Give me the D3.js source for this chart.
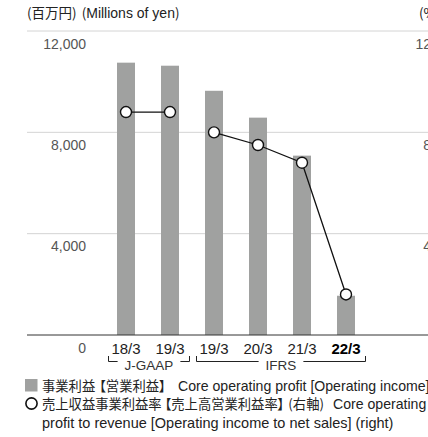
<!DOCTYPE html>
<html><head><meta charset="utf-8">
<script src="https://cdn.jsdelivr.net/npm/d3@7"></script>
<style>
html,body{margin:0;padding:0;overflow:hidden;background:#fff;}
svg{display:block;}
text{font-family:"Liberation Sans","Noto Sans CJK JP",sans-serif;}
.cjk{font-family:"Noto Sans CJK JP",sans-serif;font-feature-settings:"palt";}
</style></head><body>
<script>
const categories = ["18/3","19/3","19/3","20/3","21/3","22/3"];
const groups = ["J-GAAP","J-GAAP","IFRS","IFRS","IFRS","IFRS"];
const profit = [10750, 10630, 9640, 8580, 7080, 1550];
const margin = [8.8, 8.8, 8.0, 7.5, 6.8, 1.6];
const leftTicks = [0, 4000, 8000, 12000];
const rightTicks = [0, 4, 8, 12];

const W = 470, H = 437;
const svg = d3.select("body").append("svg").attr("width", W).attr("height", H);

const y = d3.scaleLinear().domain([0, 12000]).range([335, 31]);
const y2 = d3.scaleLinear().domain([0, 12]).range([335, 31]);
const x = d3.scaleBand().domain(d3.range(categories.length)).range([117, 355]).paddingInner(26/44).paddingOuter(0);

// title
svg.append("text").attr("x", 27).attr("y", 18).attr("font-size", 14).attr("fill", "#222")
  .html('<tspan class="cjk" font-size="13.5">(百万円)</tspan><tspan class="cjk" font-size="13.5" dx="5">(</tspan>Millions of yen<tspan class="cjk" font-size="13.5">)</tspan>');
svg.append("text").attr("x", 419).attr("y", 18).attr("font-size", 13.5).attr("fill", "#222").attr("class","cjk").text("(%)");

// gridlines
svg.append("g").selectAll("line").data(leftTicks.filter(d => d > 0)).join("line")
  .attr("x1", 27).attr("x2", W).attr("y1", d => y(d)).attr("y2", d => y(d))
  .attr("stroke", "#d4d4d4").attr("stroke-width", 1);

// left axis labels
const leftAxis = d3.axisLeft(y).tickValues(leftTicks).tickFormat(d3.format(",")).tickSize(0);
const gl = svg.append("g").attr("transform", "translate(86,0)").call(leftAxis);
gl.select(".domain").remove();
gl.selectAll("text").attr("font-size", 14).attr("fill", "#555").attr("font-family", null)
  .attr("x", 0).attr("dy", null).attr("y", 17).attr("text-anchor", "end");

// right axis labels
const rightAxis = d3.axisRight(y2).tickValues(rightTicks.filter(d => d > 0)).tickSize(0);
const gr = svg.append("g").attr("transform", "translate(431,0)").call(rightAxis);
gr.select(".domain").remove();
gr.selectAll("text").attr("font-size", 14).attr("fill", "#555").attr("font-family", null)
  .attr("x", 0).attr("dy", null).attr("y", 17).attr("text-anchor", "end");

// bars
svg.append("g").selectAll("rect").data(profit).join("rect")
  .attr("x", (d, i) => x(i)).attr("width", x.bandwidth())
  .attr("y", d => y(d)).attr("height", d => y(0) - y(d))
  .attr("fill", "#a0a1a0");

// baseline
svg.append("line").attr("x1", 27).attr("x2", W).attr("y1", y(0)).attr("y2", y(0))
  .attr("stroke", "#333").attr("stroke-width", 1);

// lines by group
const cx = i => x(i) + x.bandwidth() / 2;
const line = d3.line().x(d => cx(d.i)).y(d => y2(d.v));
const pts = margin.map((v, i) => ({ v, i, g: groups[i] }));
for (const g of ["J-GAAP", "IFRS"]) {
  svg.append("path").datum(pts.filter(p => p.g === g)).attr("d", line)
    .attr("fill", "none").attr("stroke", "#111").attr("stroke-width", 1.3);
}
svg.append("g").selectAll("circle").data(pts).join("circle")
  .attr("cx", d => cx(d.i)).attr("cy", d => y2(d.v)).attr("r", 5.5)
  .attr("fill", "#fff").attr("stroke", "#111").attr("stroke-width", 1.4);

// x labels
const xAxis = d3.axisBottom(x).tickFormat(i => categories[i]).tickSize(0);
const gx = svg.append("g").attr("transform", `translate(0,${y(0)})`).call(xAxis);
gx.select(".domain").remove();
gx.selectAll("text").attr("font-size", 15).attr("font-family", null)
  .attr("dy", null).attr("y", 19)
  .attr("font-weight", i => i === categories.length - 1 ? "bold" : null)
  .attr("fill", i => i === categories.length - 1 ? "#000" : "#222");

// group brackets
const by = 361.5, tickTop = 356;
for (const g of ["J-GAAP", "IFRS"]) {
  const idx = d3.range(groups.length).filter(i => groups[i] === g);
  const x0 = Math.round(cx(idx[0]) - 18) + 0.5, x1 = Math.round(cx(idx[idx.length - 1]) + 19) + 0.5;
  const mid = (x0 + x1) / 2;
  const t = svg.append("text").attr("x", mid).attr("y", 369.5).attr("text-anchor", "middle")
    .attr("font-size", 13.5).attr("fill", "#333").text(g);
  const tw = t.node().getComputedTextLength();
  const gap = 7;
  const bg = svg.append("g").attr("stroke", "#222").attr("stroke-width", 1).attr("fill", "none");
  bg.append("path").attr("d", `M${x0},${tickTop}V${by}H${mid - tw/2 - gap}`);
  bg.append("path").attr("d", `M${mid + tw/2 + gap},${by}H${x1}V${tickTop}`);
}

// legend
svg.append("rect").attr("x", 25).attr("y", 379).attr("width", 12.5).attr("height", 12.5).attr("fill", "#a0a1a0");
const l1 = svg.append("text").attr("y", 391).attr("font-size", 14.1).attr("fill", "#222");
l1.append("tspan").attr("x", 42).attr("class", "cjk").attr("font-size", 13.3).text("事業利益");
l1.append("tspan").attr("dx", 4).attr("class", "cjk").attr("font-size", 13.3).text("【営業利益】");
l1.append("tspan").attr("x", 178).text("Core operating profit [Operating income]");

svg.append("circle").attr("cx", 31.5).attr("cy", 403.5).attr("r", 5.6).attr("fill", "#fff").attr("stroke", "#111").attr("stroke-width", 1.6);
const l2 = svg.append("text").attr("y", 409).attr("font-size", 14.1).attr("fill", "#222");
l2.append("tspan").attr("x", 42).attr("class", "cjk").attr("font-size", 13.3).text("売上収益事業利益率");
l2.append("tspan").attr("dx", 3).attr("class", "cjk").attr("font-size", 13.3).text("【売上高営業利益率】");
l2.append("tspan").attr("dx", 4).attr("class", "cjk").attr("font-size", 13.3).text("(右軸)");
l2.append("tspan").attr("x", 333).text("Core operating");

svg.append("text").attr("x", 42).attr("y", 428).attr("font-size", 14.5).attr("fill", "#222")
  .text("profit to revenue [Operating income to net sales] (right)");
</script>
</body></html>
